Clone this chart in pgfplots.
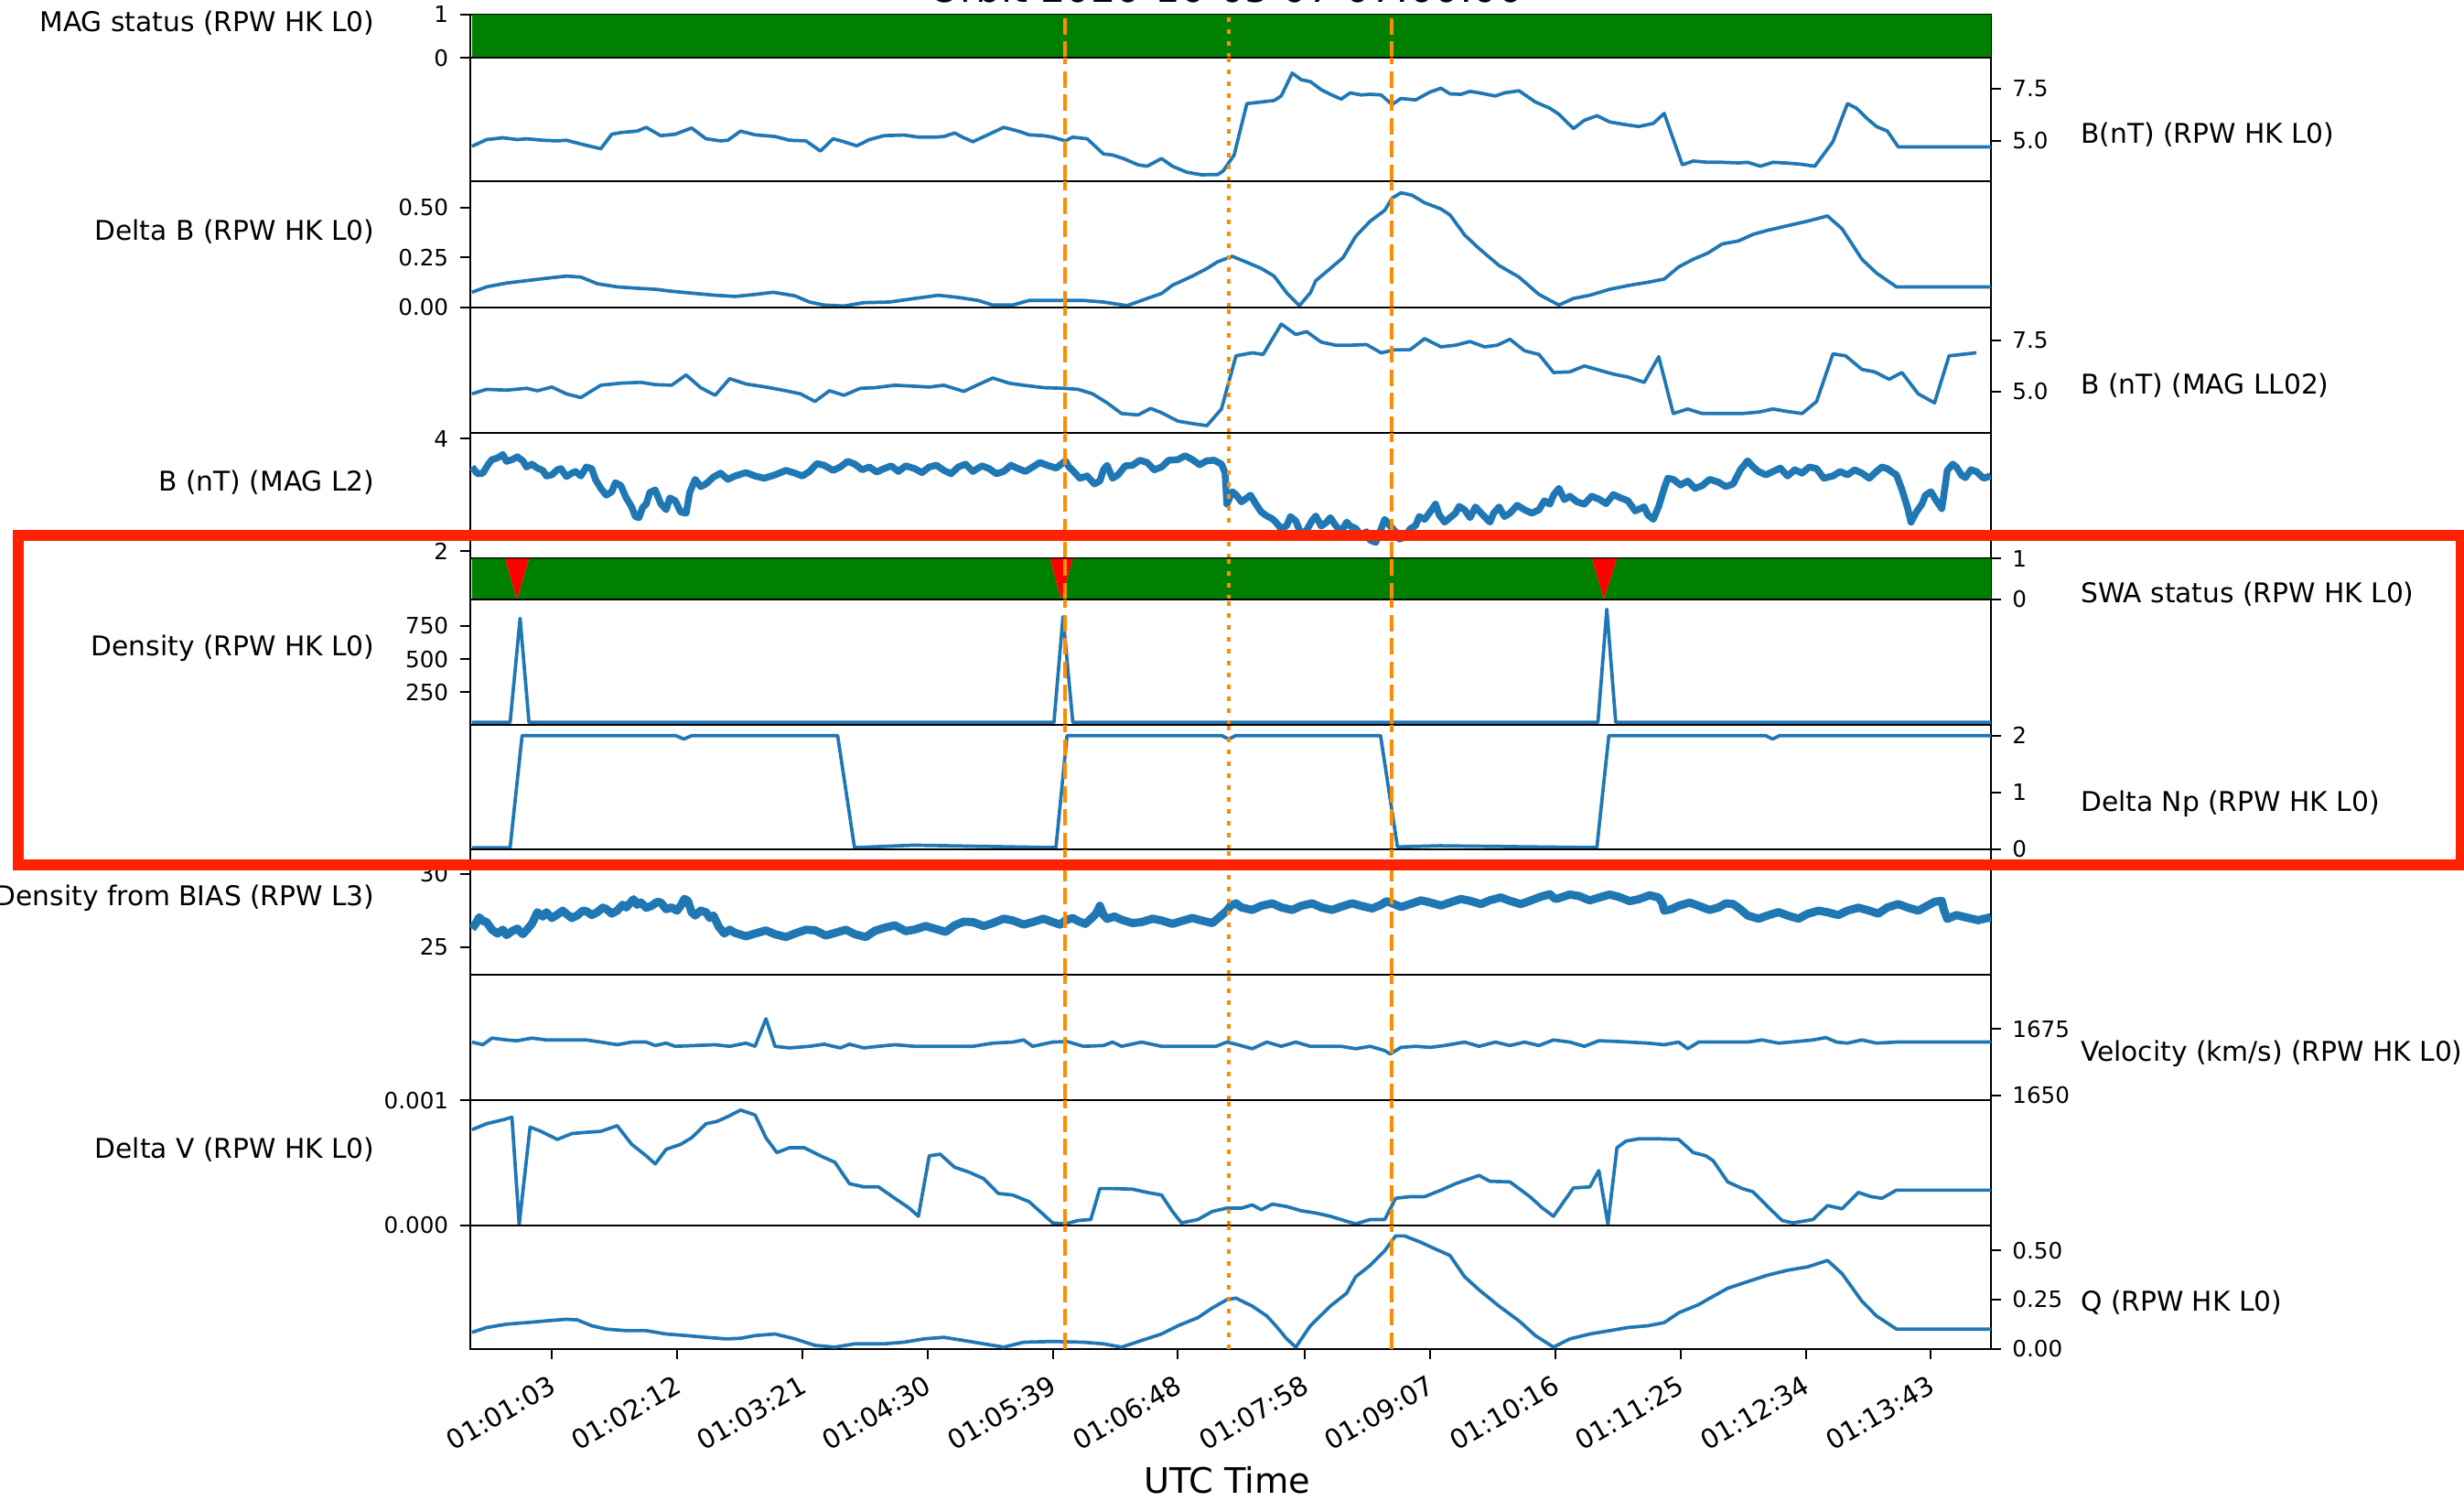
\documentclass[border=0pt]{standalone}
\usepackage{fontspec}
\setmainfont{DejaVu Sans}
\usepackage{pgfplots}
\pgfplotsset{compat=1.18}
\definecolor{mplblue}{HTML}{1F77B4}
\definecolor{mplgreen}{HTML}{008000}
\definecolor{vorange}{HTML}{FF8C00}
\definecolor{boxred}{HTML}{FF2200}
\newcommand{\lblfont}{\fontsize{8.45}{10}\selectfont}
\newcommand{\tckfont}{\fontsize{7}{8.4}\selectfont}
\newcommand{\xtckfont}{\fontsize{8.3}{9.9}\selectfont}
\newcommand{\vlines}{%
 \draw[vorange, line width=0.4mm, dash pattern=on 1.8mm off 0.75mm] (axis cs:345.8,\pgfkeysvalueof{/pgfplots/ymin}) -- (axis cs:345.8,\pgfkeysvalueof{/pgfplots/ymax});
 \draw[vorange, line width=0.4mm, dash pattern=on 0.5mm off 0.8mm] (axis cs:436.1,\pgfkeysvalueof{/pgfplots/ymin}) -- (axis cs:436.1,\pgfkeysvalueof{/pgfplots/ymax});
 \draw[vorange, line width=0.4mm, dash pattern=on 1.8mm off 0.75mm] (axis cs:525.8,\pgfkeysvalueof{/pgfplots/ymin}) -- (axis cs:525.8,\pgfkeysvalueof{/pgfplots/ymax});
}
\pgfplotsset{
 panel/.style={
   scale only axis, width=166.25mm, xmin=17.8, xmax=856.1,
   anchor=south west, xtick=\empty,
   axis line style={line width=0.2mm},
   tick align=outside, major tick length=1.1mm,
   every tick/.style={black, line width=0.2mm},
   yticklabel style={font=\tckfont},
   ytick pos=left,
 },
 rightticks/.style={ytick pos=right, yticklabel pos=right},
 bl/.style={mplblue, line width=0.37mm, line join=round},
 noisy/.style={mplblue, line width=0.75mm, line join=round},
}
\begin{document}
\begin{tikzpicture}
\useasboundingbox (0,0) rectangle (269.3mm,163.9mm);

% 1 MAG status
\begin{axis}[panel, at={(51.35mm,157.57mm)}, height=4.73mm, ymin=0, ymax=1, ytick={0,1}, yticklabels={0,1}]
\addplot[fill=mplgreen, draw=none] coordinates {(19,0) (19,1) (856.1,1) (856.1,0)} -- cycle;
\vlines
\end{axis}

% 2 B(nT) RPW HK L0
\begin{axis}[panel, rightticks, at={(51.35mm,144.1mm)}, height=13.47mm, ymin=3.06, ymax=8.99, ytick={5,7.5}, yticklabels={5.0,7.5}]
\addplot[bl] coordinates {(19,4.74) (27,5.06) (36,5.15) (44,5.06) (49,5.10) (58,5.03) (66,5.00) (71,5.03) (79,4.85) (90,4.62) (96,5.32) (101,5.40) (110,5.47) (115,5.65) (123,5.25) (131,5.32) (140,5.62) (148,5.10) (156,5.00) (160,5.03) (167,5.47) (175,5.29) (186,5.21) (194,5.03) (203,5.00) (211,4.51) (218,5.10) (224,4.96) (231,4.76) (238,5.06) (246,5.25) (257,5.28) (265,5.18) (274,5.18) (279,5.21) (285,5.38) (290,5.15) (295,4.96) (304,5.32) (312,5.65) (320,5.47) (326,5.29) (334,5.25) (339,5.18) (346,5.00) (350,5.18) (358,5.10) (367,4.37) (372,4.32) (378,4.15) (386,3.85) (391,3.78) (399,4.15) (405,3.78) (413,3.49) (421,3.37) (430,3.38) (433,3.56) (439,4.32) (446,6.79) (454,6.87) (461,6.94) (465,7.16) (471,8.26) (476,7.94) (481,7.85) (487,7.46) (492,7.24) (498,7.01) (503,7.31) (509,7.21) (514,7.24) (520,7.21) (526,6.75) (531,7.04) (539,6.97) (547,7.35) (553,7.53) (558,7.26) (564,7.24) (569,7.38) (574,7.31) (583,7.16) (588,7.31) (596,7.41) (605,6.87) (613,6.57) (618,6.28) (626,5.59) (632,5.99) (639,6.21) (646,5.91) (654,5.79) (662,5.69) (670,5.84) (676,6.32) (686,3.85) (692,4.03) (700,3.97) (708,3.97) (717,3.94) (722,3.97) (729,3.78) (736,3.97) (744,3.93) (751,3.88) (759,3.78) (769,4.96) (777,6.79) (782,6.57) (788,6.06) (793,5.69) (799,5.47) (805,4.71) (856,4.71)};
\vlines
\end{axis}

% 3 Delta B
\begin{axis}[panel, at={(51.35mm,130.33mm)}, height=13.77mm, ymin=0, ymax=0.631, ytick={0,0.25,0.5}, yticklabels={0.00,0.25,0.50}]
\addplot[bl] coordinates {(19,0.075) (27,0.102) (38,0.121) (49,0.133) (60,0.145) (71,0.156) (79,0.151) (88,0.118) (99,0.102) (110,0.095) (120,0.090) (129,0.080) (142,0.069) (153,0.060) (164,0.054) (175,0.064) (185,0.075) (197,0.057) (205,0.026) (213,0.011) (224,0.006) (235,0.023) (249,0.026) (263,0.044) (276,0.060) (287,0.049) (298,0.034) (306,0.011) (317,0.011) (326,0.034) (339,0.034) (356,0.034) (367,0.026) (380,0.008) (388,0.034) (399,0.069) (405,0.110) (416,0.156) (424,0.194) (430,0.228) (438,0.255) (446,0.225) (454,0.194) (461,0.156) (468,0.072) (475,0.008) (481,0.072) (484,0.133) (492,0.194) (499,0.248) (506,0.355) (514,0.431) (522,0.485) (526,0.546) (531,0.573) (537,0.561) (544,0.523) (553,0.492) (558,0.462) (566,0.362) (574,0.294) (585,0.209) (596,0.151) (607,0.064) (618,0.011) (626,0.044) (635,0.060) (646,0.090) (657,0.110) (667,0.125) (676,0.141) (684,0.202) (692,0.240) (700,0.271) (708,0.317) (717,0.332) (725,0.365) (733,0.385) (744,0.408) (755,0.431) (766,0.457) (774,0.393) (785,0.240) (793,0.171) (804,0.102) (856,0.102)};
\vlines
\end{axis}

% 4 B (nT) MAG LL02
\begin{axis}[panel, rightticks, at={(51.35mm,116.63mm)}, height=13.70mm, ymin=2.99, ymax=9.10, ytick={5,7.5}, yticklabels={5.0,7.5}]
\addplot[bl] coordinates {(19,4.88) (27,5.10) (38,5.06) (49,5.15) (55,5.03) (63,5.21) (71,4.88) (79,4.70) (90,5.30) (101,5.40) (112,5.44) (120,5.33) (129,5.30) (137,5.80) (145,5.18) (153,4.81) (161,5.62) (170,5.36) (181,5.21) (192,5.03) (200,4.88) (208,4.51) (216,5.03) (224,4.81) (233,5.15) (241,5.18) (252,5.30) (263,5.25) (271,5.21) (279,5.30) (290,5.00) (298,5.33) (306,5.65) (315,5.40) (323,5.30) (334,5.18) (345,5.15) (353,5.10) (361,4.88) (369,4.44) (377,3.92) (386,3.85) (393,4.17) (399,3.96) (408,3.55) (416,3.43) (424,3.33) (432,4.14) (440,6.73) (449,6.88) (455,6.80) (465,8.28) (473,7.77) (479,7.91) (487,7.40) (495,7.25) (503,7.25) (512,7.28) (520,6.88) (528,7.03) (536,7.03) (544,7.57) (553,7.17) (561,7.25) (569,7.43) (577,7.17) (584,7.25) (591,7.54) (599,6.98) (607,6.80) (615,5.92) (624,5.95) (632,6.24) (640,6.04) (648,5.84) (656,5.70) (665,5.44) (673,6.69) (681,3.92) (689,4.14) (697,3.92) (708,3.92) (719,3.92) (728,3.99) (736,4.14) (744,4.02) (752,3.92) (760,4.51) (769,6.83) (776,6.73) (785,6.07) (792,5.95) (800,5.59) (807,5.92) (816,4.88) (825,4.44) (833,6.73) (840,6.80) (848,6.88)};
\vlines
\end{axis}

% 5 B (nT) MAG L2
\begin{axis}[panel, at={(51.35mm,102.85mm)}, height=13.78mm, ymin=1.87, ymax=4.11, ytick={2,4}, yticklabels={2,4}]
\addplot[noisy] coordinates {(19,3.50) (22,3.38) (25,3.39) (28,3.55) (30,3.63) (33,3.66) (36,3.72) (38,3.60) (41,3.63) (44,3.68) (47,3.61) (49,3.50) (52,3.55) (55,3.48) (58,3.44) (60,3.34) (63,3.36) (66,3.45) (68,3.47) (71,3.33) (74,3.39) (76,3.42) (79,3.34) (82,3.50) (85,3.47) (87,3.28) (90,3.12) (93,3.00) (96,3.06) (98,3.22) (101,3.17) (104,2.95) (107,2.79) (109,2.62) (111,2.60) (113,2.78) (115,2.84) (117,3.05) (120,3.09) (123,2.85) (126,2.74) (128,2.95) (131,2.90) (134,2.70) (137,2.68) (139,3.05) (142,3.28) (145,3.15) (148,3.20) (152,3.32) (156,3.39) (160,3.28) (164,3.34) (170,3.40) (175,3.34) (180,3.30) (186,3.36) (192,3.44) (197,3.39) (201,3.34) (205,3.42) (209,3.56) (213,3.53) (218,3.44) (222,3.50) (226,3.60) (230,3.55) (234,3.45) (238,3.50) (242,3.41) (246,3.47) (250,3.52) (254,3.42) (258,3.52) (263,3.47) (267,3.40) (271,3.50) (275,3.53) (279,3.44) (283,3.38) (287,3.50) (291,3.55) (295,3.42) (300,3.52) (304,3.47) (308,3.38) (312,3.42) (316,3.53) (320,3.47) (324,3.42) (328,3.50) (332,3.58) (336,3.53) (341,3.48) (346,3.61) (348,3.50) (350,3.44) (354,3.30) (358,3.34) (362,3.20) (365,3.25) (367,3.45) (369,3.53) (372,3.30) (375,3.36) (379,3.52) (383,3.53) (387,3.62) (391,3.58) (395,3.45) (399,3.50) (403,3.62) (408,3.63) (412,3.70) (416,3.63) (420,3.54) (424,3.61) (428,3.62) (432,3.55) (434,3.40) (435,2.84) (438,3.06) (440,3.01) (443,2.88) (446,2.95) (448,3.00) (451,2.84) (454,2.70) (457,2.63) (460,2.58) (462,2.52) (465,2.40) (468,2.46) (470,2.62) (473,2.54) (476,2.30) (479,2.38) (482,2.55) (484,2.63) (487,2.45) (490,2.52) (492,2.60) (495,2.46) (498,2.35) (501,2.52) (503,2.45) (506,2.41) (509,2.28) (512,2.35) (514,2.20) (517,2.16) (520,2.40) (522,2.57) (525,2.45) (528,2.35) (530,2.22) (533,2.25) (536,2.40) (539,2.46) (541,2.62) (544,2.57) (547,2.70) (550,2.84) (552,2.65) (555,2.52) (558,2.60) (561,2.68) (563,2.80) (566,2.74) (569,2.60) (572,2.79) (576,2.65) (580,2.52) (582,2.68) (585,2.79) (588,2.62) (591,2.68) (595,2.82) (599,2.74) (603,2.68) (607,2.74) (610,2.90) (613,2.84) (615,3.00) (618,3.12) (621,2.92) (624,2.98) (628,2.88) (632,2.84) (636,2.98) (640,2.93) (644,2.85) (648,3.01) (652,2.95) (656,2.90) (660,2.72) (665,2.79) (667,2.65) (670,2.57) (673,2.80) (676,3.12) (678,3.30) (681,3.28) (685,3.18) (689,3.25) (693,3.12) (697,3.17) (701,3.28) (706,3.23) (710,3.15) (714,3.20) (718,3.45) (722,3.61) (725,3.50) (728,3.42) (732,3.36) (736,3.42) (740,3.48) (744,3.34) (748,3.45) (752,3.39) (756,3.50) (760,3.47) (764,3.30) (769,3.34) (773,3.42) (777,3.36) (781,3.45) (785,3.39) (789,3.30) (793,3.42) (796,3.50) (799,3.47) (802,3.40) (804,3.36) (807,3.10) (810,2.79) (812,2.52) (815,2.70) (818,2.84) (820,3.00) (823,3.06) (826,2.90) (829,2.76) (831,3.20) (832,3.44) (835,3.55) (837,3.50) (840,3.35) (842,3.31) (845,3.45) (848,3.42) (852,3.30) (856,3.34)};
\vlines
\end{axis}

% 6 SWA status
\begin{axis}[panel, rightticks, at={(51.35mm,98.4mm)}, height=4.45mm, ymin=0, ymax=1, ytick={0,1}, yticklabels={0,1}]
\addplot[fill=mplgreen, draw=none] coordinates {(19,0) (19,1) (37.3,1) (43.8,0) (50.4,1) (337.6,1) (343.6,0) (350.1,1) (636.2,1) (642.8,0) (649.9,1) (856.1,1) (856.1,0)} -- cycle;
\addplot[fill=red, draw=none] coordinates {(37.3,1) (43.8,0) (50.4,1)} -- cycle;
\addplot[fill=red, draw=none] coordinates {(337.6,1) (343.6,0) (350.1,1)} -- cycle;
\addplot[fill=red, draw=none] coordinates {(636.2,1) (642.8,0) (649.9,1)} -- cycle;
\vlines
\end{axis}

% 7 Density RPW HK L0
\begin{axis}[panel, at={(51.35mm,84.7mm)}, height=13.70mm, ymin=4, ymax=949, ytick={250,500,750}, yticklabels={250,500,750}]
\addplot[bl] coordinates {(19,23) (40,23) (45.5,807) (50.4,23) (339.7,23) (344.7,819) (350.1,23) (639.5,23) (644.4,876) (649.3,23) (856,23)};
\vlines
\end{axis}

% 8 Delta Np
\begin{axis}[panel, rightticks, at={(51.35mm,71.12mm)}, height=13.58mm, ymin=0, ymax=2.19, ytick={0,1,2}, yticklabels={0,1,2}]
\addplot[bl] coordinates {(19,0.027) (40,0.027) (46.6,2.0) (131.3,2.0) (135.7,1.94) (140.1,2.0) (220.5,2.0) (229.8,0.027) (262.6,0.07) (340.8,0.027) (346.9,2.0) (432.2,2.0) (436,1.94) (439.8,2.0) (519.7,2.0) (529,0.04) (552.5,0.06) (638.9,0.027) (645.5,2.0) (731.9,2.0) (735.8,1.94) (739.6,2.0) (856,2.0)};
\vlines
\end{axis}

% 9 Density from BIAS
\begin{axis}[panel, at={(51.35mm,57.44mm)}, height=13.68mm, ymin=23.15, ymax=31.70, ytick={25,30}, yticklabels={25,30}]
\addplot[noisy, line width=0.9mm] coordinates {(19,26.27) (21,26.6) (23,27.05) (25,26.8) (27,26.72) (30,26.2) (33,25.94) (36,26.2) (38,25.83) (41,26.1) (44,26.27) (47,25.9) (49,26.16) (52,26.6) (55,27.39) (58,27.1) (60,27.39) (63,27.0) (66,27.23) (69,27.5) (71,27.28) (74,27.0) (77,27.17) (80,27.5) (82,27.46) (85,27.2) (88,27.39) (91,27.7) (93,27.61) (96,27.3) (99,27.50) (102,27.9) (104,27.72) (106,28.0) (108,28.28) (110,27.9) (112,28.06) (115,27.7) (118,27.83) (121,28.1) (123,28.06) (126,27.6) (129,27.72) (132,27.5) (134,27.83) (136,28.3) (138,28.17) (140,27.4) (142,27.17) (145,27.5) (148,27.39) (150,27.0) (152,27.17) (155,26.4) (158,25.94) (161,26.2) (164,25.98) (170,25.75) (175,25.94) (181,26.15) (186,25.89) (192,25.7) (197,25.94) (203,26.2) (208,26.16) (214,25.8) (219,25.98) (225,26.2) (230,25.89) (236,25.7) (241,26.12) (247,26.35) (252,26.50) (258,26.1) (263,26.21) (269,26.45) (274,26.27) (280,26.05) (285,26.50) (290,26.75) (295,26.72) (301,26.45) (306,26.65) (312,26.95) (317,26.83) (323,26.55) (328,26.72) (334,26.95) (339,26.72) (343,26.55) (346,26.83) (350,27.0) (353,26.79) (357,26.6) (361,27.05) (363,27.3) (365,27.83) (367,27.2) (369,26.94) (373,27.1) (377,26.88) (383,26.65) (388,26.72) (394,26.95) (399,26.83) (405,26.6) (410,26.79) (416,27.0) (421,26.83) (427,26.65) (432,27.17) (435,27.5) (437,27.83) (440,28.0) (443,27.72) (449,27.55) (454,27.83) (460,28.0) (465,27.72) (471,27.55) (476,27.83) (482,28.0) (487,27.72) (493,27.55) (498,27.77) (504,28.0) (509,27.83) (515,27.65) (520,27.90) (523,28.15) (525,28.06) (531,27.75) (536,27.95) (542,28.2) (547,28.06) (553,27.85) (558,28.06) (564,28.3) (569,28.17) (575,27.95) (580,28.21) (586,28.4) (591,28.17) (597,27.95) (602,28.17) (608,28.45) (613,28.62) (616,28.3) (618,28.35) (624,28.6) (629,28.50) (635,28.2) (640,28.39) (646,28.6) (651,28.44) (657,28.15) (662,28.28) (668,28.55) (673,28.39) (675,28.0) (676,27.50) (680,27.6) (684,27.83) (690,28.05) (695,27.83) (701,27.55) (706,27.72) (710,28.0) (714,27.95) (718,27.6) (722,27.17) (728,26.95) (733,27.17) (739,27.4) (744,27.17) (750,26.95) (755,27.28) (761,27.5) (766,27.39) (772,27.2) (777,27.50) (783,27.7) (788,27.54) (794,27.3) (799,27.72) (805,27.95) (810,27.72) (816,27.5) (821,27.83) (825,28.1) (829,28.17) (830,27.6) (832,26.94) (837,27.2) (842,27.05) (849,26.85) (856,27.05)};
\vlines
\end{axis}

% 10 Velocity
\begin{axis}[panel, rightticks, at={(51.35mm,43.69mm)}, height=13.75mm, ymin=1648.2, ymax=1695.6, ytick={1650,1675}, yticklabels={1650,1675}]
\addplot[bl] coordinates {(19,1670.1) (25,1669.1) (30,1671.6) (38,1670.9) (44,1670.6) (52,1671.6) (60,1670.9) (71,1670.9) (82,1670.9) (90,1670.1) (99,1669.1) (107,1670.1) (115,1670.1) (120,1668.8) (126,1669.7) (131,1668.5) (142,1668.8) (153,1669.1) (161,1668.5) (170,1669.7) (175,1668.5) (181,1678.9) (186,1668.5) (194,1667.9) (205,1668.5) (213,1669.3) (222,1667.9) (227,1669.3) (235,1667.9) (243,1668.5) (252,1669.1) (263,1668.5) (279,1668.5) (295,1668.5) (306,1669.7) (317,1670.1) (323,1670.9) (328,1668.5) (339,1670.1) (347,1670.3) (356,1668.5) (367,1668.8) (372,1670.1) (377,1668.5) (388,1670.1) (399,1668.5) (416,1668.5) (429,1668.5) (435,1670.1) (440,1669.3) (449,1667.6) (457,1670.1) (465,1668.5) (473,1670.1) (481,1668.5) (498,1668.5) (506,1667.6) (514,1668.5) (522,1666.9) (525,1665.6) (531,1668.1) (539,1668.5) (547,1668.1) (555,1668.8) (566,1670.1) (574,1668.5) (583,1670.1) (591,1668.8) (599,1670.1) (607,1668.8) (615,1670.9) (624,1670.1) (632,1668.5) (640,1670.6) (651,1670.3) (667,1669.7) (676,1669.1) (684,1670.1) (689,1667.6) (695,1670.1) (706,1670.1) (722,1670.1) (730,1670.9) (739,1669.7) (749,1670.3) (758,1670.9) (765,1671.8) (771,1670.1) (777,1669.7) (785,1670.9) (793,1669.7) (804,1670.1) (856,1670.1)};
\vlines
\end{axis}

% 11 Delta V
\begin{axis}[panel, at={(51.35mm,30.04mm)}, height=13.65mm, ymin=0, ymax=0.001, ytick={0,0.001}, yticklabels={0.000,0.001}, scaled y ticks=false]
\addplot[bl] coordinates {(19,7.64e-4) (27,8.12e-4) (36,8.43e-4) (41,8.64e-4) (45,0.05e-4) (51,7.85e-4) (57,7.51e-4) (66,6.86e-4) (74,7.33e-4) (82,7.43e-4) (90,7.51e-4) (99,7.96e-4) (107,6.47e-4) (115,5.55e-4) (120,4.90e-4) (126,6.07e-4) (134,6.47e-4) (140,6.99e-4) (148,8.12e-4) (154,8.30e-4) (160,8.69e-4) (167,9.21e-4) (175,8.82e-4) (181,6.99e-4) (187,5.81e-4) (194,6.20e-4) (202,6.20e-4) (211,5.55e-4) (219,5.03e-4) (227,3.32e-4) (235,3.06e-4) (243,3.06e-4) (252,2.15e-4) (260,1.36e-4) (265,0.71e-4) (271,5.55e-4) (277,5.68e-4) (285,4.63e-4) (293,4.24e-4) (301,3.72e-4) (309,2.54e-4) (317,2.41e-4) (326,1.88e-4) (334,0.84e-4) (339,0.18e-4) (346,0.10e-4) (353,0.37e-4) (360,0.45e-4) (365,2.93e-4) (372,2.93e-4) (383,2.88e-4) (391,2.62e-4) (399,2.41e-4) (405,1.10e-4) (410,0.18e-4) (419,0.45e-4) (427,1.10e-4) (435,1.36e-4) (443,1.36e-4) (449,1.62e-4) (454,1.23e-4) (460,1.68e-4) (468,1.49e-4) (476,1.15e-4) (484,0.97e-4) (492,0.71e-4) (501,0.31e-4) (506,0.10e-4) (514,0.45e-4) (522,0.45e-4) (528,2.15e-4) (536,2.28e-4) (544,2.28e-4) (553,2.80e-4) (561,3.32e-4) (574,3.98e-4) (580,3.51e-4) (591,3.46e-4) (602,2.28e-4) (609,1.36e-4) (615,0.71e-4) (626,2.98e-4) (635,3.06e-4) (640,4.37e-4) (645,0.10e-4) (650,6.20e-4) (655,6.73e-4) (662,6.91e-4) (673,6.91e-4) (684,6.86e-4) (692,5.81e-4) (699,5.55e-4) (703,5.16e-4) (711,3.46e-4) (719,2.93e-4) (725,2.67e-4) (733,1.49e-4) (741,0.37e-4) (747,0.18e-4) (758,0.45e-4) (766,1.57e-4) (774,1.31e-4) (783,2.62e-4) (790,2.28e-4) (796,2.15e-4) (804,2.80e-4) (856,2.80e-4)};
\vlines
\end{axis}

% 12 Q
\begin{axis}[panel, rightticks, at={(51.35mm,16.54mm)}, height=13.50mm, ymin=0, ymax=0.63, ytick={0,0.25,0.5}, yticklabels={0.00,0.25,0.50},
  xtick={63,132,201,270,339,408,478,547,616,685,754,823},
  xticklabels={01:01:03,01:02:12,01:03:21,01:04:30,01:05:39,01:06:48,01:07:58,01:09:07,01:10:16,01:11:25,01:12:34,01:13:43},
  xtick pos=bottom, xticklabel style={font=\xtckfont, rotate=30, anchor=north east}]
\addplot[bl] coordinates {(19,0.083) (27,0.108) (38,0.125) (49,0.133) (60,0.142) (71,0.150) (77,0.147) (85,0.117) (93,0.100) (104,0.092) (115,0.092) (126,0.075) (137,0.067) (148,0.058) (159,0.050) (167,0.053) (175,0.067) (186,0.075) (197,0.050) (208,0.017) (219,0.008) (230,0.025) (246,0.025) (257,0.033) (268,0.050) (279,0.058) (290,0.042) (301,0.025) (312,0.008) (323,0.033) (339,0.037) (356,0.033) (367,0.025) (377,0.008) (388,0.042) (399,0.075) (408,0.117) (419,0.158) (427,0.208) (435,0.250) (440,0.258) (449,0.217) (457,0.167) (462,0.117) (468,0.050) (473,0.008) (481,0.117) (492,0.217) (501,0.283) (506,0.367) (514,0.425) (522,0.500) (528,0.575) (533,0.575) (542,0.542) (550,0.508) (558,0.475) (566,0.367) (574,0.300) (585,0.217) (596,0.142) (605,0.067) (615,0.008) (624,0.050) (635,0.075) (646,0.092) (656,0.108) (667,0.117) (676,0.133) (684,0.183) (695,0.225) (703,0.267) (711,0.308) (722,0.342) (733,0.375) (744,0.400) (755,0.417) (766,0.450) (774,0.383) (785,0.242) (793,0.167) (804,0.100) (856,0.100)};
\vlines
\end{axis}

% panel labels
\begin{scope}[every node/.style={inner sep=0pt, font=\lblfont}]
\node[anchor=south east] at (41.0mm,159.94mm) {MAG status (RPW HK L0)};
\node[anchor=south east] at (41.0mm,137.22mm) {Delta B (RPW HK L0)};
\node[anchor=south east] at (41.0mm,109.74mm) {B (nT) (MAG L2)};
\node[anchor=south east] at (41.0mm,91.55mm) {Density (RPW HK L0)};
\node[anchor=south east] at (41.0mm,64.28mm) {Density from BIAS (RPW L3)};
\node[anchor=south east] at (41.0mm,36.87mm) {Delta V (RPW HK L0)};
\node[anchor=north west] at (227.35mm,150.54mm) {B(nT) (RPW HK L0)};
\node[anchor=north west] at (227.35mm,123.18mm) {B (nT) (MAG LL02)};
\node[anchor=north west] at (227.35mm,100.33mm) {SWA status (RPW HK L0)};
\node[anchor=north west] at (227.35mm,77.61mm) {Delta Np (RPW HK L0)};
\node[anchor=north west] at (227.35mm,50.27mm) {Velocity (km/s) (RPW HK L0)};
\node[anchor=north west] at (227.35mm,22.99mm) {Q (RPW HK L0)};
\node[anchor=base, font=\fontsize{10.9}{13}\selectfont] at (134.1mm,0.75mm) {UTC Time};
\node[anchor=base, font=\fontsize{12.3}{14}\selectfont] at (134.0mm,163.6mm) {Orbit 2020-10-05 07 07:00:00};
\end{scope}

% highlight box
\draw[boxred, line width=1.2mm] (1.98mm,105.35mm) rectangle (269.0mm,69.4mm);
\end{tikzpicture}
\end{document}
